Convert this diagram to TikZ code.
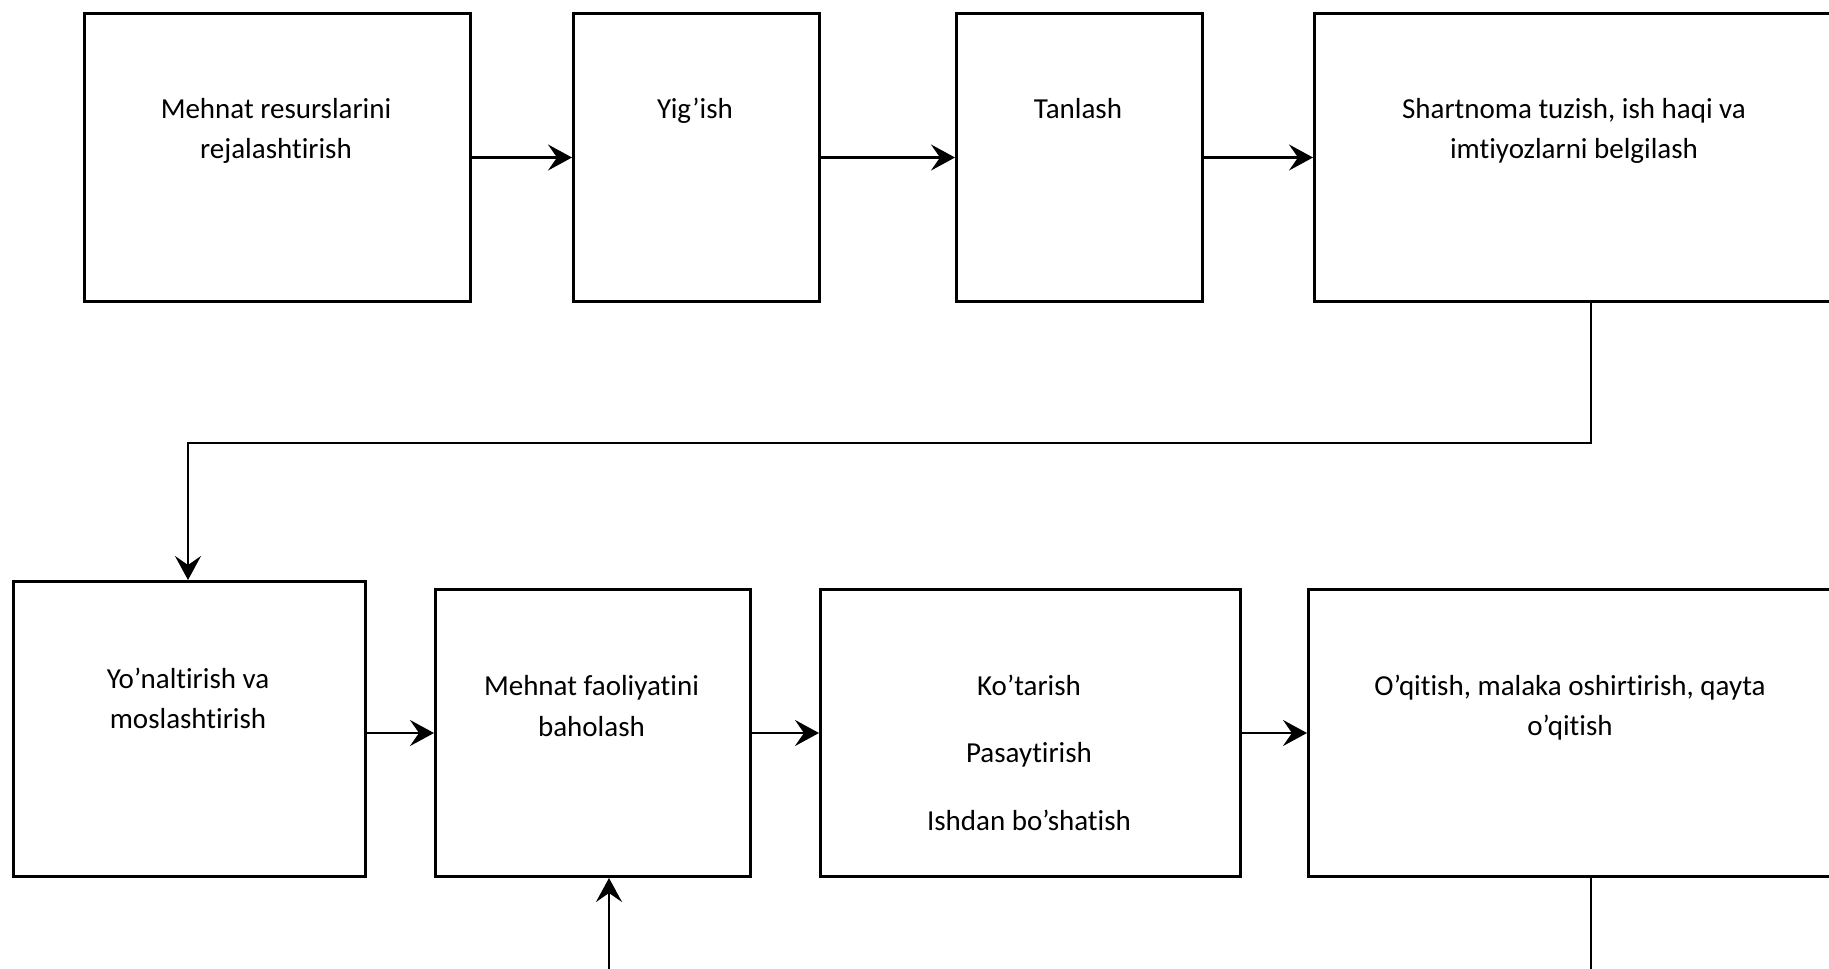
\documentclass[tikz,border=0pt]{standalone}
\usepackage{fontspec}
\setmainfont{Carlito}[Ligatures={NoCommon,NoRare,NoContextual}]
\usetikzlibrary{arrows.meta}
\tikzset{
  stage/.style={draw=black, line width=3pt, rectangle, inner sep=0pt, anchor=north west},
  txt/.style={anchor=base, inner sep=0pt, font=\fontsize{29}{35}\selectfont},
  flow/.style={draw=black, line width=2.5pt, -{Stealth[length=24pt,width=26pt,inset=9pt]}},
  route/.style={draw=black, line width=2pt},
}
\newcommand{\stagebox}[5]{%
  \node[stage, minimum width=#4pt, minimum height=#5pt] (#1) at (#2,#3) {};}
\begin{document}
\begin{tikzpicture}[x=1pt, y=-1pt]
  \clip (0,0) rectangle (1829,969);
  \fill[white] (0,0) rectangle (1829,969);

  % upper row
  \stagebox{b1}{83}{12}{386}{288}
  \stagebox{b2}{572}{12}{246}{288}
  \stagebox{b3}{955}{12}{246}{288}
  \stagebox{b4}{1313}{12}{522}{288}
  % lower row
  \stagebox{b5}{12}{580}{352}{295}
  \stagebox{b6}{434}{588}{315}{287}
  \stagebox{b7}{819}{588}{420}{287}
  \stagebox{b8}{1307}{588}{526}{287}

  % labels
  \node[txt] (t1a) at (276,118) {Mehnat resurslarini};
  \node[txt] (t1b) at (276,158) {rejalashtirish};
  \node[txt] (t2) at (695,118) {Yig’ish};
  \node[txt] (t3) at (1078,118) {Tanlash};
  \node[txt] (t4a) at (1574,118) {Shartnoma tuzish, ish haqi va};
  \node[txt] (t4b) at (1574,158) {imtiyozlarni belgilash};
  \node[txt] (t5a) at (188,688) {Yo’naltirish va};
  \node[txt] (t5b) at (188,728) {moslashtirish};
  \node[txt] (t6a) at (591.5,695) {Mehnat faoliyatini};
  \node[txt] (t6b) at (591.5,736) {baholash};
  \node[txt] (t7a) at (1029,695) {Ko’tarish};
  \node[txt] (t7b) at (1029,762) {Pasaytirish};
  \node[txt] (t7c) at (1029,830) {Ishdan bo’shatish};
  \node[txt] (t8a) at (1570,695) {O’qitish, malaka oshirtirish, qayta};
  \node[txt] (t8b) at (1570,735) {o’qitish};

  % connectors
  \coordinate (turnA) at (1591,443);
  \coordinate (turnB) at (188,443);
  \coordinate (inBottom) at (609,969);
  \coordinate (outBottom) at (1591,969);

  \draw[flow] (b1.east) -- (b2.west);
  \draw[flow] (b2.east) -- (b3.west);
  \draw[flow] (b3.east) -- (b4.west |- b3.east);
  \draw[route, -{Stealth[length=24pt,width=26pt,inset=9pt]}]
    (b4.south -| turnA) -- (turnA) -- (turnB) -- (turnB |- b5.north);
  \draw[flow] (b5.east |- b6.west) -- (b6.west);
  \draw[flow] (b6.east) -- (b7.west);
  \draw[flow] (b7.east) -- (b8.west |- b7.east);
  \draw[flow] (inBottom) -- (inBottom |- b6.south);
  \draw[route] (b8.south -| outBottom) -- (outBottom);
\end{tikzpicture}
\end{document}
